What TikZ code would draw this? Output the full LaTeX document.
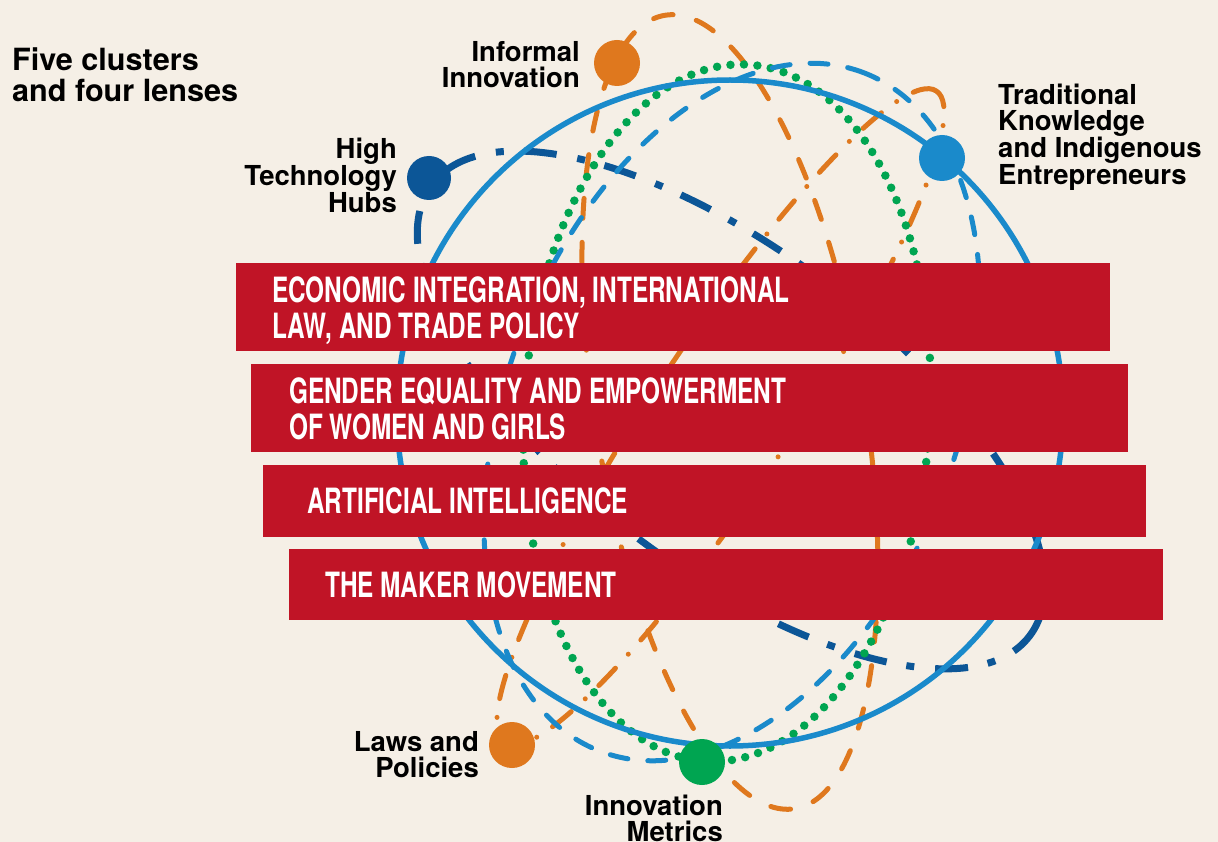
\documentclass[tikz,border=0pt]{standalone}
\usepackage{fontspec}
\setmainfont{TeX Gyre Heros}
\newfontfamily\barfont[FakeStretch=0.70]{TeX Gyre Heros}
\definecolor{bgc}{HTML}{F5EFE6}
\definecolor{lblue}{HTML}{1A8ACB}
\definecolor{dblue}{HTML}{0C5697}
\definecolor{orng}{HTML}{DF781E}
\definecolor{grn}{HTML}{00A551}
\definecolor{barred}{HTML}{C01426}
\begin{document}
\begin{tikzpicture}[x=1pt,y=-1pt,
  orbitdkblue/.style={draw=dblue, line width=7pt, line cap=butt, dash pattern=on 33pt off 20pt on 8pt off 21pt},
  orbitordash/.style={draw=orng, line width=5pt, line cap=round, dash pattern=on 20pt off 24pt},
  orbitordot/.style={draw=orng, line width=5pt, line cap=round, dash pattern=on 24pt off 19pt on 0pt off 19pt},
  orbitgreen/.style={draw=grn, line width=8.5pt, line cap=round, dash pattern=on 0pt off 13.5pt},
  orbitblue/.style={draw=lblue, line width=5pt, line cap=round, dash pattern=on 18pt off 20pt},
  ring/.style={draw=lblue, line width=5.5pt},
  hubdot/.style={circle, minimum size=46pt, inner sep=0pt},
  lab/.style={font={\bfseries\fontsize{27.5pt}{26pt}\selectfont}, text=black, inner sep=0pt},
  title/.style={font={\bfseries\fontsize{30.6pt}{31pt}\selectfont}, text=black, inner sep=0pt, align=left},
  barbox/.style={fill=barred, inner sep=0pt, anchor=north west},
  bartext/.style={font={\barfont\bfseries\fontsize{34.8pt}{35.5pt}\selectfont}, text=white, inner sep=0pt, align=left, anchor=base west}
]
\useasboundingbox (0,0) rectangle (1218,842);
\fill[bgc] (0,0) rectangle (1218,842);

% orbit centres
\coordinate (cring) at (730,413);
\coordinate (cdk) at (731,410);
\coordinate (cod) at (730,412);
\coordinate (cdd) at (720.5,417);
\coordinate (cgr) at (727,413);
\coordinate (cbl) at (732,412);

% orbits
\path[orbitdkblue, rotate around={-37.1:(cdk)}] (cdk) ellipse [x radius=374.5pt, y radius=158.5pt];
\path[orbitordash, rotate around={9.3:(cod)}] (cod) ellipse [x radius=134.7pt, y radius=402pt];
\path[orbitordot, rotate around={56.5:(cdd)}] (cdd) ellipse [x radius=391pt, y radius=70pt];
\path[orbitgreen, rotate around={-3.5:(cgr)}] (cgr) ellipse [x radius=203pt, y radius=349pt];
\path[orbitblue, rotate around={68.6:(cbl)}] (cbl) ellipse [x radius=364pt, y radius=225pt];
\path[ring] (cring) circle [radius=333pt];

% cluster nodes
\node[hubdot, fill=orng] (informal) at (617,63) {};
\node[hubdot, fill=dblue, minimum size=44pt] (hightech) at (429,178) {};
\node[hubdot, fill=lblue] (tk) at (942,158) {};
\node[hubdot, fill=orng] (laws) at (512,745) {};
\node[hubdot, fill=grn] (metrics) at (702,762) {};

% lens bars
\node[barbox, minimum width=874pt, minimum height=88pt] (bar1) at (236,263) {};
\node[barbox, minimum width=877pt, minimum height=88pt] (bar2) at (251,364) {};
\node[barbox, minimum width=883pt, minimum height=72pt] (bar3) at (263,465) {};
\node[barbox, minimum width=874pt, minimum height=71pt] (bar4) at (289,549) {};

\node[bartext] (t1) at (272,338) {ECONOMIC INTEGRATION, INTERNATIONAL\\LAW, AND TRADE POLICY};
\node[bartext] (t2) at (289,439) {GENDER EQUALITY AND EMPOWERMENT\\OF WOMEN AND GIRLS};
\node[bartext] (t3) at (307,513) {ARTIFICIAL INTELLIGENCE};
\node[bartext] (t4) at (325,597) {THE MAKER MOVEMENT};

% labels (base anchor = last line)
\node[title, anchor=base west] (ttl) at (12,102) {Five clusters\\and four lenses};
\node[lab, align=right, anchor=base east] (linformal) at (580,88) {Informal\\Innovation};
\node[lab, align=right, anchor=base east] (lhightech) at (397,213) {High\\Technology\\Hubs};
\node[lab, align=left, anchor=base west] (ltk) at (998,185) {Traditional\\Knowledge\\and Indigenous\\Entrepreneurs};
\node[lab, align=right, anchor=base east] (llaws) at (479,777) {Laws and\\Policies};
\node[lab, align=right, anchor=base east] (lmetrics) at (723,841) {Innovation\\Metrics};
\end{tikzpicture}
\end{document}
